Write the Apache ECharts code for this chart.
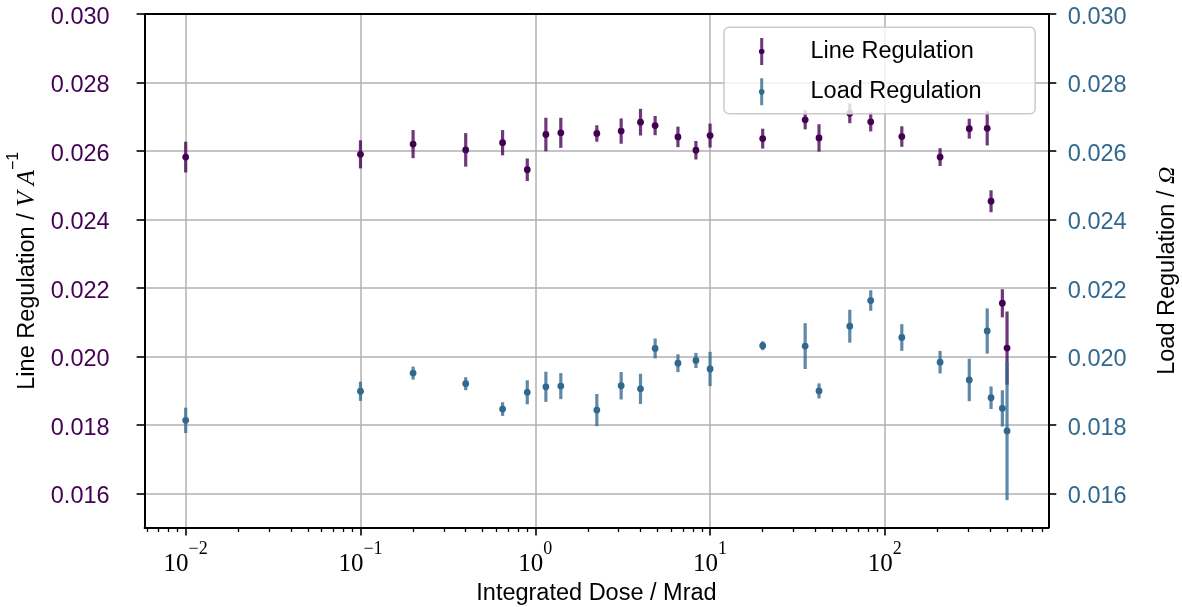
<!DOCTYPE html>
<html>
<head>
<meta charset="utf-8">
<script src="https://cdn.jsdelivr.net/npm/echarts@6/dist/echarts.min.js"></script>
<style>
  html, body { margin: 0; padding: 0; background: #ffffff; }
  #chart { width: 1182px; height: 607px; }
</style>
</head>
<body>
<div id="chart"></div>
<script>
// Integrated dose (Mrad) at each measurement
const dose = [0.01, 0.1, 0.2, 0.4, 0.65, 0.9, 1.15, 1.4, 2.25, 3.1, 4.0, 4.85, 6.55, 8.3,
              10, 20, 35, 42, 63, 83, 125, 207, 304, 385, 405, 470, 500];

// Line regulation (V/A) and its uncertainty
const lineReg = [0.02582, 0.02590, 0.02620, 0.02603, 0.02624, 0.02545, 0.02648, 0.02653, 0.02651,
                 0.02658, 0.02684, 0.02674, 0.02641, 0.02602, 0.02645, 0.02636, 0.02691, 0.02638,
                 0.02710, 0.02685, 0.02642, 0.02582, 0.02665, 0.02666, 0.02453, 0.02155, 0.02024];
const lineErr = [0.00045, 0.00041, 0.00041, 0.00049, 0.00037, 0.00033, 0.00049, 0.00044, 0.00024,
                 0.00037, 0.00039, 0.00028, 0.00030, 0.00027, 0.00035, 0.00029, 0.00028, 0.00040,
                 0.00029, 0.00028, 0.00030, 0.00026, 0.00029, 0.00050, 0.00032, 0.00041, 0.00107];

// Load regulation (Ohm) and its uncertainty
const loadReg = [0.01813, 0.01898, 0.01951, 0.01920, 0.01846, 0.01895, 0.01911, 0.01913, 0.01843,
                 0.01914, 0.01905, 0.02023, 0.01980, 0.01988, 0.01963, 0.02031, 0.02030, 0.01899,
                 0.02088, 0.02163, 0.02055, 0.01983, 0.01931, 0.02074, 0.01879, 0.01848, 0.01782];
const loadErr = [0.00037, 0.00028, 0.00019, 0.00019, 0.00020, 0.00035, 0.00044, 0.00038, 0.00047,
                 0.00040, 0.00044, 0.00029, 0.00026, 0.00022, 0.00050, 0.00013, 0.00067, 0.00022,
                 0.00048, 0.00030, 0.00039, 0.00033, 0.00062, 0.00066, 0.00033, 0.00053, 0.00202];

// Axis ticks
const xMajorTicks = [0.01, 0.1, 1, 10, 100];
const xMinorTicks = [];
for (let p = -3; p <= 2; p++) {
  for (let m = 2; m <= 9; m++) xMinorTicks.push(+(m * Math.pow(10, p)).toPrecision(3));
}
const yTicks = [0.016, 0.018, 0.020, 0.022, 0.024, 0.026, 0.028, 0.030];

const X_MIN = Math.pow(10, -2.235);
const X_MAX = Math.pow(10, 2.935);
const Y_MIN = 0.015;
const Y_MAX = 0.030;

const PURPLE = '#440154';
const PURPLE_BAR = 'rgba(68,1,84,0.78)';
const BLUE = '#31688e';
const BLUE_BAR = 'rgba(49,104,142,0.78)';

const SANS = '"Liberation Sans", Arial, Helvetica, sans-serif';
const SERIF = '"Liberation Serif", "Times New Roman", serif';
const FS = 23.5;

function rows(v, e) {
  return dose.map((d, i) => [d, v[i], e[i]]);
}

function errorBarRenderer(dotColor, barColor) {
  return function (params, api) {
    const x = api.value(0), y = api.value(1), e = api.value(2);
    const c = api.coord([x, y]);
    const top = api.coord([x, y + e]);
    const bot = api.coord([x, y - e]);
    return {
      type: 'group',
      children: [
        { type: 'rect', shape: { x: c[0] - 1.6, y: top[1], width: 3.2, height: bot[1] - top[1] },
          style: { fill: barColor } },
        { type: 'circle', shape: { cx: c[0], cy: c[1], r: 3.4 }, style: { fill: dotColor } }
      ]
    };
  };
}

function legendGradient(dark, light) {
  return {
    type: 'linear', x: 0, y: 0, x2: 0, y2: 1,
    colorStops: [
      { offset: 0, color: light }, { offset: 0.39, color: light },
      { offset: 0.39, color: dark }, { offset: 0.61, color: dark },
      { offset: 0.61, color: light }, { offset: 1, color: light }
    ]
  };
}

// vertical error bar with a dot, used as legend marker
const legendIcon = 'path://M1.3,0 H4.3 V27 H1.3 Z M2.8,10.7 A2.8,2.8 0 1 1 2.799,10.7 Z';

function yLabel(v) {
  return '{a|' + v.toFixed(3) + '}';
}

const chart = echarts.init(document.getElementById('chart'), null, { renderer: 'canvas' });

chart.setOption({
  animation: false,
  backgroundColor: '#ffffff',
  grid: { left: 144.6, right: 133.7, top: 14, bottom: 79.5, containLabel: false, outerBoundsMode: 'none' },
  legend: {
    orient: 'vertical',
    left: 724, top: 27.3,
    padding: [10.7, 53.5, 8.4, 34.9],
    itemWidth: 5.6, itemHeight: 27, itemGap: 13.3,
    backgroundColor: 'rgba(255,255,255,0.8)',
    borderColor: '#cccccc', borderWidth: 1.5, borderRadius: 5,
    icon: legendIcon,
    formatter: name => '{s| }{t|' + name + '}',
    textStyle: {
      rich: {
        s: { width: 41, fontSize: FS, fontFamily: SANS },
        t: { fontSize: FS, fontFamily: SANS, color: '#000', lineHeight: 28 }
      }
    },
    data: [
      { name: 'Line Regulation', itemStyle: { color: legendGradient(PURPLE, PURPLE_BAR) } },
      { name: 'Load Regulation', itemStyle: { color: legendGradient(BLUE, BLUE_BAR) } }
    ]
  },
  xAxis: [
    {
      type: 'log', logBase: 10, min: X_MIN, max: X_MAX, position: 'bottom',
      name: 'Integrated Dose / Mrad', nameLocation: 'middle', nameGap: 42,
      nameTextStyle: { fontFamily: SANS, fontSize: FS, color: '#000' },
      axisLine: { show: true, onZero: false, lineStyle: { color: '#000', width: 2 } },
      axisTick: { show: true, inside: false, length: 8, customValues: xMajorTicks,
                  lineStyle: { color: '#000', width: 1.6 } },
      axisLabel: {
        customValues: xMajorTicks, margin: 13,
        formatter: v => {
          const e = Math.round(Math.log10(v));
          return '{b|10}{s|' + (e < 0 ? '\u2212' + (-e) : String(e)) + '}';
        },
        rich: {
          b: { fontFamily: SERIF, fontSize: 25, color: '#000', lineHeight: 36, verticalAlign: 'bottom' },
          s: { fontFamily: SERIF, fontSize: 18, color: '#000', lineHeight: 18, verticalAlign: 'top' }
        }
      },
      splitLine: { show: true, lineStyle: { color: '#b0b0b0', width: 1.5 } }
    },
    {
      type: 'log', logBase: 10, min: X_MIN, max: X_MAX, position: 'bottom',
      axisLine: { show: false },
      axisTick: { show: true, inside: false, length: 4.5, customValues: xMinorTicks,
                  lineStyle: { color: '#000', width: 1.3 } },
      axisLabel: { show: false },
      splitLine: { show: false }
    },
    {
      type: 'log', logBase: 10, min: X_MIN, max: X_MAX, position: 'top', z: 3,
      axisLine: { show: true, onZero: false, lineStyle: { color: '#000', width: 2 } },
      axisTick: { show: false }, axisLabel: { show: false }, splitLine: { show: false }
    }
  ],
  yAxis: [
    {
      type: 'value', min: Y_MIN, max: Y_MAX, position: 'left',
      name: '{n|Line Regulation / }{v|V A}{p|\u22121}',
      nameLocation: 'middle', nameGap: 104, nameRotate: 90,
      nameTextStyle: {
        rich: {
          n: { fontFamily: SANS, fontSize: FS, color: '#000', lineHeight: 34, verticalAlign: 'bottom' },
          v: { fontFamily: SERIF, fontStyle: 'italic', fontSize: 25, color: '#000', lineHeight: 34, verticalAlign: 'bottom' },
          p: { fontFamily: SANS, fontSize: 16, color: '#000', lineHeight: 16, verticalAlign: 'top' }
        }
      },
      axisLine: { show: true, onZero: false, lineStyle: { color: '#000', width: 2 } },
      axisTick: { show: true, inside: false, length: 8, customValues: yTicks,
                  lineStyle: { color: '#000', width: 1.6 } },
      axisLabel: { customValues: yTicks, margin: 35, formatter: yLabel,
                   rich: { a: { fontFamily: SANS, fontSize: FS, color: PURPLE,
                                lineHeight: 26, padding: [7, 0, 0, 0] } } },
      splitLine: { show: true, lineStyle: { color: '#b0b0b0', width: 1.5 } }
    },
    {
      type: 'value', min: Y_MIN, max: Y_MAX, position: 'right',
      name: '{n|Load Regulation / }{o|\u03A9}',
      nameLocation: 'middle', nameGap: 104, nameRotate: 90,
      nameTextStyle: {
        rich: {
          n: { fontFamily: SANS, fontSize: FS, color: '#000', lineHeight: 30 },
          o: { fontFamily: SERIF, fontStyle: 'italic', fontSize: 24, color: '#000', lineHeight: 30 }
        }
      },
      axisLine: { show: true, onZero: false, lineStyle: { color: '#000', width: 2 } },
      axisTick: { show: true, inside: false, length: 8, customValues: yTicks,
                  lineStyle: { color: '#000', width: 1.6 } },
      axisLabel: { customValues: yTicks, margin: 19.5, formatter: yLabel,
                   rich: { a: { fontFamily: SANS, fontSize: FS, color: BLUE,
                                lineHeight: 26, padding: [7, 0, 0, 0] } } },
      splitLine: { show: false }
    }
  ],
  series: [
    {
      name: 'Line Regulation', type: 'custom', xAxisIndex: 0, yAxisIndex: 0,
      itemStyle: { color: PURPLE },
      encode: { x: 0, y: 1 },
      renderItem: errorBarRenderer(PURPLE, PURPLE_BAR),
      data: rows(lineReg, lineErr), z: 2
    },
    {
      name: 'Load Regulation', type: 'custom', xAxisIndex: 0, yAxisIndex: 1,
      itemStyle: { color: BLUE },
      encode: { x: 0, y: 1 },
      renderItem: errorBarRenderer(BLUE, BLUE_BAR),
      data: rows(loadReg, loadErr), z: 2
    }
  ]
});
</script>
</body>
</html>
